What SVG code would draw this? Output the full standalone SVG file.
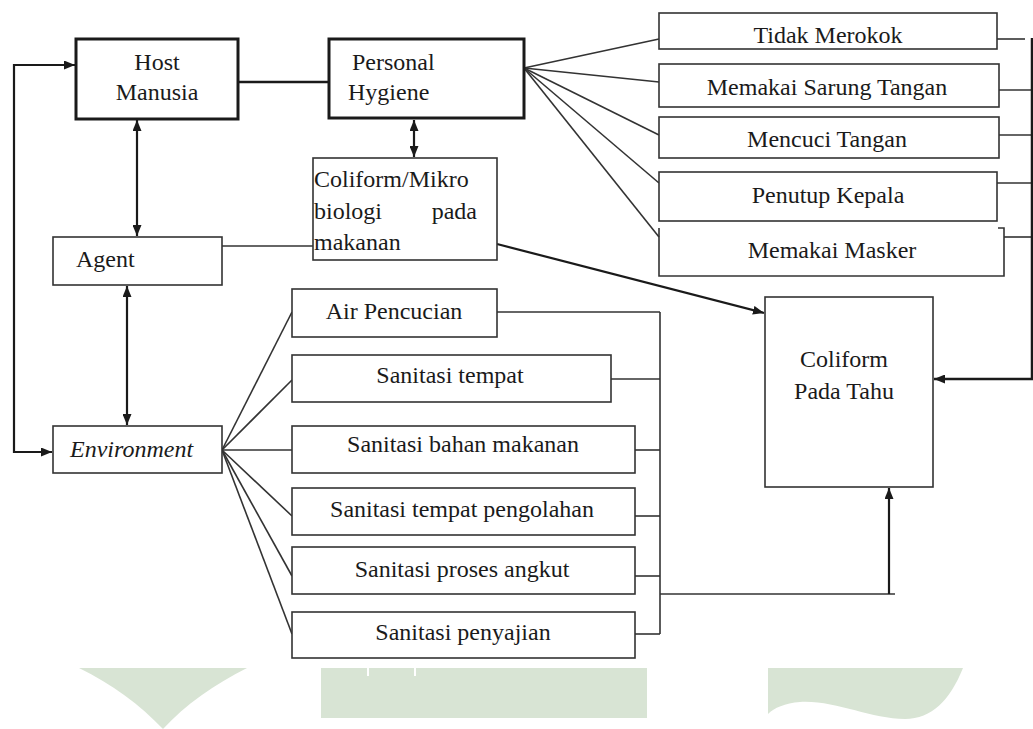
<svg xmlns="http://www.w3.org/2000/svg" width="1033" height="729" viewBox="0 0 1033 729">
<style>
.box{fill:#fff;stroke:#333;stroke-width:1.6}
.thick{fill:#fff;stroke:#1a1a1a;stroke-width:3}
.t{font-family:"Liberation Serif","Times New Roman",serif;font-size:24px;fill:#1a1a1a}
.c{text-anchor:middle}
.ln{fill:none;stroke:#333;stroke-width:1.6}
.ar{fill:none;stroke:#1a1a1a;stroke-width:2.2}
.wm{fill:#d8e4d4;stroke:none}
</style>
<defs>
<marker id="ah" markerUnits="userSpaceOnUse" markerWidth="11" markerHeight="9" refX="11" refY="4.5" orient="auto-start-reverse">
<path d="M0,0 L11,4.5 L0,9 Z" fill="#1a1a1a"/>
</marker>
</defs>
<rect width="1033" height="729" fill="#fff"/>
<g id="watermark">
<path class="wm" d="M79,668 L247,668 C215,684 185,705 163,729 C140,705 112,684 79,668 Z"/>
<rect class="wm" x="321" y="668" width="326" height="50"/>
<rect x="367" y="668" width="2" height="8" fill="#fff"/>
<rect x="414" y="668" width="2" height="8" fill="#fff"/>
<path class="wm" d="M768,668 L963,668 C950,700 932,719 905,719 C870,719 835,700 800,702 C785,703 774,708 768,714 Z"/>
</g>
<g id="connectors">
<line class="ar" x1="238" y1="82" x2="329" y2="82" style="stroke-width:2.5"/>
<line class="ar" x1="137" y1="120" x2="137" y2="236" marker-start="url(#ah)" marker-end="url(#ah)"/>
<line class="ar" x1="414" y1="120" x2="414" y2="157" marker-start="url(#ah)" marker-end="url(#ah)"/>
<line class="ln" x1="222" y1="246" x2="313" y2="246"/>
<line class="ar" x1="497" y1="244" x2="764" y2="313" marker-end="url(#ah)"/>
<line class="ar" x1="127" y1="286" x2="127" y2="425" marker-start="url(#ah)" marker-end="url(#ah)"/>
<path class="ar" d="M52,452 H14 V65 H75" marker-start="url(#ah)" marker-end="url(#ah)"/>
<g class="ln">
<line x1="524" y1="68" x2="659" y2="39"/>
<line x1="524" y1="68" x2="659" y2="82"/>
<line x1="524" y1="68" x2="659" y2="135"/>
<line x1="524" y1="68" x2="659" y2="183"/>
<line x1="524" y1="68" x2="659" y2="237"/>
<line x1="997" y1="39" x2="1025" y2="39"/>
<line x1="999" y1="90" x2="1032" y2="90"/>
<line x1="999" y1="135" x2="1032" y2="135"/>
<line x1="997" y1="183" x2="1032" y2="183"/>
<line x1="1004" y1="237" x2="1032" y2="237"/>
</g>
<path class="ar" d="M1032,38 V379 H934" marker-end="url(#ah)" style="stroke-width:2.5"/>
<g class="ln">
<line x1="222" y1="450" x2="292" y2="312"/>
<line x1="222" y1="450" x2="292" y2="380"/>
<line x1="222" y1="450" x2="292" y2="450"/>
<line x1="222" y1="450" x2="292" y2="516"/>
<line x1="222" y1="450" x2="292" y2="576"/>
<line x1="222" y1="450" x2="292" y2="634"/>
<line x1="497" y1="312" x2="660" y2="312"/>
<line x1="611" y1="379" x2="660" y2="379"/>
<line x1="635" y1="450" x2="660" y2="450"/>
<line x1="635" y1="516" x2="660" y2="516"/>
<line x1="635" y1="576" x2="660" y2="576"/>
<line x1="635" y1="634" x2="660" y2="634"/>
<line x1="660" y1="312" x2="660" y2="634"/>
<line x1="660" y1="594" x2="895" y2="594"/>
</g>
<line class="ar" x1="889" y1="594" x2="889" y2="488" marker-end="url(#ah)"/>
</g>
<g id="host">
<rect class="thick" x="76" y="39" width="162" height="80"/>
<text class="t c" x="157" y="70">Host</text>
<text class="t c" x="157" y="100">Manusia</text>
</g>
<g id="personal">
<rect class="thick" x="329" y="39" width="195" height="79"/>
<text class="t" x="352" y="70">Personal</text>
<text class="t" x="348" y="100">Hygiene</text>
</g>
<g id="agent">
<rect class="box" x="53" y="237" width="169" height="48"/>
<text class="t" x="76" y="267">Agent</text>
</g>
<g id="coliform-mikro">
<rect class="box" x="313" y="158" width="184" height="102"/>
<text class="t" x="314" y="187">Coliform/Mikro</text>
<text class="t" x="314" y="219">biologi</text>
<text class="t" x="477" y="219" text-anchor="end">pada</text>
<text class="t" x="314" y="250">makanan</text>
</g>
<g id="environment">
<rect class="box" x="53" y="426" width="169" height="47"/>
<text class="t" x="70" y="457" font-style="italic">Environment</text>
</g>
<g id="tidak-merokok">
<rect class="box" x="659" y="13" width="338" height="36"/>
<text class="t c" x="828" y="43">Tidak Merokok</text>
</g>
<g id="sarung-tangan">
<rect class="box" x="659" y="64" width="340" height="43"/>
<text class="t c" x="827" y="95">Memakai Sarung Tangan</text>
</g>
<g id="mencuci-tangan">
<rect class="box" x="659" y="117" width="340" height="41"/>
<text class="t c" x="827" y="147">Mencuci Tangan</text>
</g>
<g id="penutup-kepala">
<rect class="box" x="659" y="172" width="338" height="49"/>
<text class="t c" x="828" y="203">Penutup Kepala</text>
</g>
<g id="masker">
<path class="box" d="M659,228 V276 H1004 V228 H998" style="fill:none"/>
<text class="t c" x="832" y="258">Memakai Masker</text>
</g>
<g id="coliform-tahu">
<rect class="box" x="765" y="297" width="168" height="190"/>
<text class="t c" x="844" y="367">Coliform</text>
<text class="t c" x="844" y="399">Pada Tahu</text>
</g>
<g id="air-pencucian">
<rect class="box" x="292" y="289" width="205" height="48"/>
<text class="t c" x="394" y="319">Air Pencucian</text>
</g>
<g id="sanitasi-tempat">
<rect class="box" x="292" y="355" width="319" height="47"/>
<text class="t c" x="450" y="383">Sanitasi tempat</text>
</g>
<g id="sanitasi-bahan">
<rect class="box" x="292" y="426" width="343" height="47"/>
<text class="t c" x="463" y="452">Sanitasi bahan makanan</text>
</g>
<g id="sanitasi-pengolahan">
<rect class="box" x="292" y="488" width="343" height="47"/>
<text class="t c" x="462" y="517">Sanitasi tempat pengolahan</text>
</g>
<g id="sanitasi-angkut">
<rect class="box" x="292" y="547" width="343" height="47"/>
<text class="t c" x="462" y="577">Sanitasi proses angkut</text>
</g>
<g id="sanitasi-penyajian">
<rect class="box" x="292" y="612" width="343" height="46"/>
<text class="t c" x="463" y="640">Sanitasi penyajian</text>
</g>
</svg>
